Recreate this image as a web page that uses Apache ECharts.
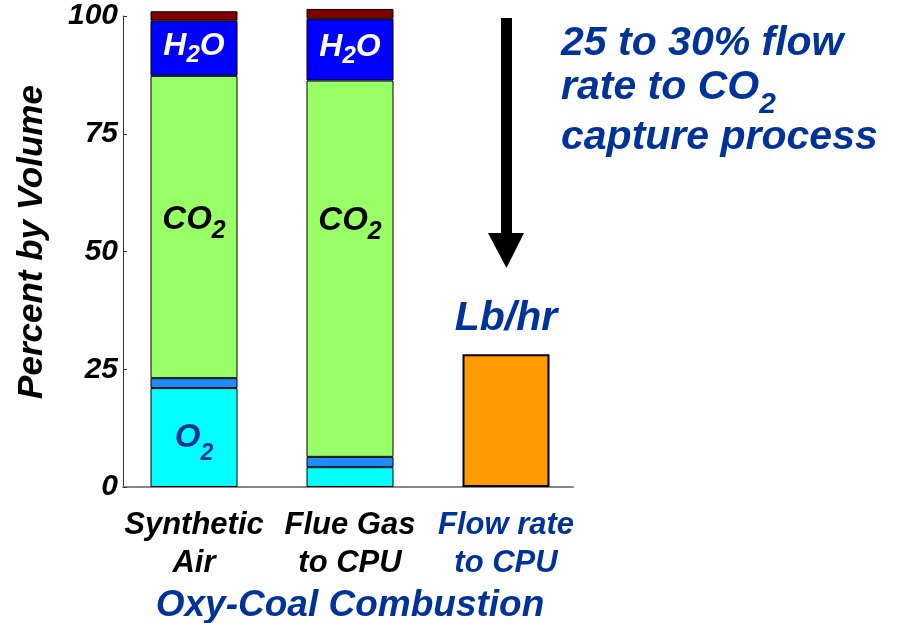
<!DOCTYPE html>
<html>
<head>
<meta charset="utf-8">
<script src="https://cdn.jsdelivr.net/npm/echarts@6/dist/echarts.min.js"></script>
<style>
  html, body { margin: 0; padding: 0; background: #fff; }
  #chart { width: 906px; height: 623px; }
</style>
</head>
<body>
<div id="chart"></div>
<script>
const categories = ['Synthetic\nAir', 'Flue Gas\nto CPU', 'Flow rate\nto CPU'];
const o2 = [21.0, 4.2, '-'];
const inert = [2.1, 2.2, '-'];
const co2 = [64.2, 79.9, '-'];
const h2o = [11.7, 13.1, '-'];
const other = [2.0, 2.1, '-'];
const flowRate = ['-', '-', 28.2];

const FONT = '"Liberation Sans", Arial, sans-serif';
const NAVY = '#003399';

// main text + lowered subscript. the sub token is bottom aligned in the line,
// its (fake) height decides how far below the main baseline it ends up
const chemRich = (color, size, sub, drop) => {
  const lh = Math.round(size * 1.1);
  const h = Math.max(2, Math.round(lh - 2 * drop - 0.6 * (size - sub)));
  return {
    m: { color, fontSize: size, lineHeight: lh, fontWeight: 'bold', fontStyle: 'italic', fontFamily: FONT },
    s: { color, fontSize: sub, height: h, verticalAlign: 'bottom',
         fontWeight: 'bold', fontStyle: 'italic', fontFamily: FONT },
  };
};

const chemLabel = (text, color, size, sub, drop, offset) => ({
  show: true,
  position: 'inside',
  formatter: text,
  offset: offset || [0, 0],
  rich: chemRich(color, size, sub, drop),
});

const stackSeries = (name, data, color, labels) => ({
  name,
  type: 'bar',
  stack: 'gas',
  barWidth: 87,
  clip: false,
  itemStyle: { color, borderColor: '#000', borderWidth: 1 },
  data: data.map((v, i) => (labels && labels[i] ? { value: v, label: labels[i] } : v)),
});

const chart = echarts.init(document.getElementById('chart'));

chart.setOption({
  animation: false,
  title: {
    left: 556,
    top: 17,
    text: '{m|25 to 30% flow}\n{m|rate to CO}{s|2}\n{m3|capture process}',
    textStyle: {
      rich: {
        m: { color: NAVY, fontSize: 41, fontWeight: 'bold', fontStyle: 'italic', fontFamily: FONT, lineHeight: 44 },
        m3: { color: NAVY, fontSize: 41, fontWeight: 'bold', fontStyle: 'italic', fontFamily: FONT, lineHeight: 56 },
        s: { color: NAVY, fontSize: 30, fontWeight: 'bold', fontStyle: 'italic', fontFamily: FONT,
             height: 11, verticalAlign: 'bottom' },
      },
    },
  },
  grid: [
    { left: 116, right: 322, top: 16, bottom: 136, outerBoundsMode: 'none' },
    { left: 123, right: 333, top: 16, bottom: 136, outerBoundsMode: 'none' },
  ],
  xAxis: [
    {
      type: 'category',
      gridIndex: 0,
      data: categories,
      axisLine: { show: false },
      axisTick: { show: false },
      axisLabel: {
        interval: 0,
        margin: 19,
        fontSize: 31,
        lineHeight: 38,
        fontWeight: 'bold',
        fontStyle: 'italic',
        fontFamily: FONT,
        color: (v, i) => (i === 2 ? NAVY : '#000'),
      },
      name: 'Oxy-Coal Combustion',
      nameLocation: 'middle',
      nameGap: 92,
      nameTextStyle: { color: NAVY, fontSize: 37, fontWeight: 'bold', fontStyle: 'italic', fontFamily: FONT },
    },
    {
      type: 'value',
      gridIndex: 1,
      min: 0,
      max: 1,
      axisLine: { show: true, onZero: false, lineStyle: { color: '#888', width: 2 } },
      axisTick: { show: false },
      axisLabel: { show: false },
      splitLine: { show: false },
    },
  ],
  yAxis: [
    {
      type: 'value',
      gridIndex: 0,
      min: 0,
      max: 100,
      show: false,
    },
    {
      type: 'value',
      gridIndex: 1,
      min: 0,
      max: 100,
      interval: 25,
      axisLine: { show: true, lineStyle: { color: '#333', width: 1 } },
      axisTick: { show: true, inside: true, length: 4, lineStyle: { color: '#333' } },
      splitLine: { show: false },
      axisLabel: {
        margin: 5,
        fontSize: 30,
        fontWeight: 'bold',
        fontStyle: 'italic',
        fontFamily: FONT,
        color: '#000',
      },
      name: 'Percent by Volume',
      nameLocation: 'middle',
      nameGap: 73,
      nameTextStyle: {
        color: '#000', fontSize: 35, fontWeight: 'bold', fontStyle: 'italic', fontFamily: FONT,
        padding: [0, 0, 0, 19],
      },
    },
  ],
  graphic: [
    {
      type: 'group',
      silent: true,
      children: [
        { type: 'rect', shape: { x: 501, y: 18, width: 11, height: 217 }, style: { fill: '#000' } },
        { type: 'polygon', shape: { points: [[488, 233], [524, 233], [506.5, 268]] }, style: { fill: '#000' } },
      ],
    },
  ],
  series: [
    stackSeries('O2', o2, '#00FFFF', [chemLabel('{m|O}{s|2}', NAVY, 33, 23, 13, [0, 0]), null]),
    stackSeries('Other inert', inert, '#1E8CFF'),
    stackSeries('CO2', co2, '#99FF66', [
      chemLabel('{m|CO}{s|2}', '#000', 33, 25, 9, [0, -7]),
      chemLabel('{m|CO}{s|2}', '#000', 33, 25, 9, [0, -48]),
    ]),
    stackSeries('H2O', h2o, '#0000FF', [
      chemLabel('{m|H}{s|2}{m|O}', '#fff', 32, 24, 7, [0, -2]),
      chemLabel('{m|H}{s|2}{m|O}', '#fff', 32, 24, 7, [0, -3]),
    ]),
    stackSeries('Other', other, '#800000'),
    {
      name: 'Flow rate',
      type: 'bar',
      stack: 'gas',
      barWidth: 87,
      clip: false,
      itemStyle: { color: '#FF9900', borderColor: '#000', borderWidth: 2 },
      label: {
        show: true,
        position: 'top',
        distance: 15,
        formatter: 'Lb/hr',
        color: NAVY,
        fontSize: 41,
        fontWeight: 'bold',
        fontStyle: 'italic',
        fontFamily: FONT,
      },
      data: flowRate,
    },
  ],
});
</script>
</body>
</html>
